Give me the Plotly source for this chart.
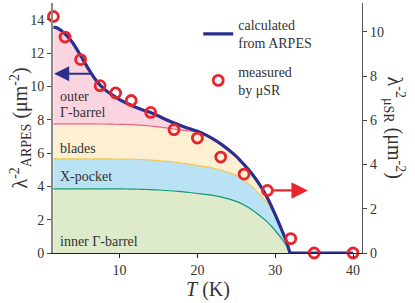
import plotly.graph_objects as go

# ---------------- data ----------------
T_calc = [1.5, 2, 3, 4, 5, 6, 7, 8, 9, 10, 11, 12, 13, 14, 15, 16, 17, 18, 19, 20,
          21, 22, 23, 24, 25, 26, 27, 28, 29, 30, 31, 31.5, 31.9]
lam_total = [13.56, 13.5, 13.15, 12.6, 11.85, 11.05, 10.35, 9.85, 9.5, 9.2, 8.97, 8.76, 8.58, 8.43,
             8.22, 8.0, 7.8, 7.62, 7.45, 7.3, 7.1, 6.85, 6.55, 6.2, 5.8, 5.3, 4.75, 4.1, 3.3, 2.3,
             1.2, 0.6, 0.0]
lam_blades_top = [7.75, 7.75, 7.75, 7.75, 7.75, 7.75, 7.74, 7.74, 7.73, 7.72, 7.71, 7.69, 7.66, 7.62,
                  7.57, 7.51, 7.44, 7.37, 7.32, 7.3, 7.1, 6.85, 6.55, 6.2, 5.8, 5.3, 4.75, 4.1, 3.3,
                  2.3, 1.2, 0.6, 0.0]
lam_xpocket_top = [5.65, 5.65, 5.65, 5.65, 5.65, 5.65, 5.65, 5.65, 5.64, 5.64, 5.63, 5.62, 5.6, 5.58,
                   5.54, 5.5, 5.46, 5.4, 5.33, 5.25, 5.18, 5.1, 4.98, 4.82, 4.65, 4.35, 4.0, 3.5,
                   3.0, 2.2, 1.2, 0.6, 0.0]
lam_inner_top = [3.85, 3.85, 3.85, 3.85, 3.85, 3.85, 3.85, 3.85, 3.85, 3.85, 3.84, 3.83, 3.82, 3.8,
                 3.78, 3.75, 3.72, 3.68, 3.63, 3.57, 3.52, 3.46, 3.37, 3.25, 3.1, 2.88, 2.6, 2.25,
                 1.85, 1.35, 0.75, 0.4, 0.0]
T_normal = [31.9, 40]
lam_normal = [0.0, 0.0]

T_musr = [1.5, 3, 5, 7.5, 9.5, 11.5, 14, 17, 20, 23, 26, 29, 32, 35, 40]
lam_musr = [10.7, 9.77, 8.75, 7.57, 7.24, 6.9, 6.36, 5.58, 5.2, 4.34, 3.57, 2.83, 0.65, 0.0, 0.0]

x_ticks = [10, 20, 30, 40]
yl_ticks = [0, 2, 4, 6, 8, 10, 12, 14]
yr_ticks = [0, 2, 4, 6, 8, 10]

region_labels = ["outer", "Γ-barrel", "blades", "X-pocket", "inner Γ-barrel"]
region_label_y = [9.38, 8.42, 6.3, 4.58, 0.7]

# ---------------- style ----------------
FONT = "Liberation Serif, Times New Roman, DejaVu Serif, serif"
NAVY = "#2b2f8e"
RED = "#e8242c"
TXT = "#333333"

fig = go.Figure()

layers = [
    (lam_inner_top, "#deebcb", "#13986f", "tozeroy"),
    (lam_xpocket_top, "#b9e2f5", "#f4c64a", "tonexty"),
    (lam_blades_top, "#fdefd1", "#ee5f87", "tonexty"),
    (lam_total, "#fad4de", "rgba(0,0,0,0)", "tonexty"),
]
for vals, fillc, linec, fillmode in layers:
    fig.add_trace(go.Scatter(
        x=T_calc, y=vals, mode="lines", fill=fillmode, fillcolor=fillc,
        line=dict(color=linec, width=1.2, shape="spline", smoothing=0.6),
        showlegend=False, hoverinfo="skip", yaxis="y"))

fig.add_trace(go.Scatter(
    x=T_calc, y=lam_total, mode="lines",
    line=dict(color=NAVY, width=3.2, shape="spline", smoothing=0.6),
    name="calculated<br>from ARPES", legendgroup="a", yaxis="y"))
fig.add_trace(go.Scatter(
    x=T_normal, y=lam_normal, mode="lines",
    line=dict(color=NAVY, width=3.2),
    showlegend=False, hoverinfo="skip", yaxis="y", cliponaxis=False))

fig.add_trace(go.Scatter(
    x=T_musr, y=lam_musr, mode="markers",
    marker=dict(symbol="circle-open", size=10, color=RED, line=dict(width=2.8, color=RED)),
    name="measured<br>by μSR", legendgroup="b", yaxis="y2", cliponaxis=False))

annotations = []
for txt, yv in zip(region_labels, region_label_y):
    annotations.append(dict(x=2.1, y=yv, xref="x", yref="y", text=txt, showarrow=False,
                            xanchor="left", yanchor="middle",
                            font=dict(family=FONT, size=14, color=TXT)))

# arrows
annotations.append(dict(x=1.6, y=10.75, ax=6.4, ay=10.75, xref="x", yref="y", axref="x", ayref="y",
                        text="", showarrow=True, arrowhead=2, arrowsize=1.5, arrowwidth=2,
                        arrowcolor=NAVY, standoff=0))
annotations.append(dict(x=34.2, y=2.83, ax=29.5, ay=2.83, xref="x", yref="y2", axref="x", ayref="y2",
                        text="", showarrow=True, arrowhead=2, arrowsize=1.5, arrowwidth=2.2,
                        arrowcolor=RED, standoff=0))

# axis titles
annotations.append(dict(x=-0.105, y=0.5, xref="paper", yref="paper", textangle=-90,
                        text="λ<sup>-2</sup><sub>ARPES</sub> (μm<sup>-2</sup>)", showarrow=False,
                        xanchor="center", yanchor="middle",
                        font=dict(family=FONT, size=20, color=TXT)))
annotations.append(dict(x=1.105, y=0.5, xref="paper", yref="paper", textangle=90,
                        text="λ<sup>-2</sup><sub>μSR</sub> (μm<sup>-2</sup>)", showarrow=False,
                        xanchor="center", yanchor="middle",
                        font=dict(family=FONT, size=20, color=TXT)))
annotations.append(dict(x=0.5, y=-0.145, xref="paper", yref="paper",
                        text="<i>T</i> (K)", showarrow=False,
                        xanchor="center", yanchor="middle",
                        font=dict(family=FONT, size=20, color=TXT)))

axis_font = dict(family=FONT, size=14, color=TXT)
fig.update_layout(
    width=415, height=303,
    margin=dict(l=53, r=53, t=3, b=50, pad=0, autoexpand=False),
    paper_bgcolor="white", plot_bgcolor="white",
    font=dict(family=FONT, size=14, color=TXT),
    showlegend=True,
    legend=dict(x=0.47, y=0.975, xanchor="left", yanchor="top",
                bgcolor="rgba(0,0,0,0)", font=dict(family=FONT, size=14, color=TXT),
                tracegroupgap=7, itemwidth=30),
    xaxis=dict(range=[1.45, 41.15], tickvals=x_ticks, ticks="outside", ticklen=4,
               tickcolor="#222", showline=True, linecolor="#222", linewidth=1.2,
               showgrid=False, zeroline=False, tickfont=axis_font, automargin=False),
    yaxis=dict(range=[0, 15], tickvals=yl_ticks, ticks="outside", ticklen=4,
               tickcolor="#444", showline=True, linecolor="#888", linewidth=2,
               showgrid=False, zeroline=False, tickfont=axis_font, automargin=False),
    yaxis2=dict(range=[0, 11.31], tickvals=yr_ticks, ticks="outside", ticklen=4,
                tickcolor="#444", showline=True, linecolor="#555", linewidth=1.2,
                showgrid=False, zeroline=False, tickfont=axis_font,
                overlaying="y", side="right", automargin=False),
    annotations=annotations,
)

fig.write_html("out.html", config={"displayModeBar": False},
               post_script="document.body.style.margin='0';document.body.style.overflow='hidden';")
